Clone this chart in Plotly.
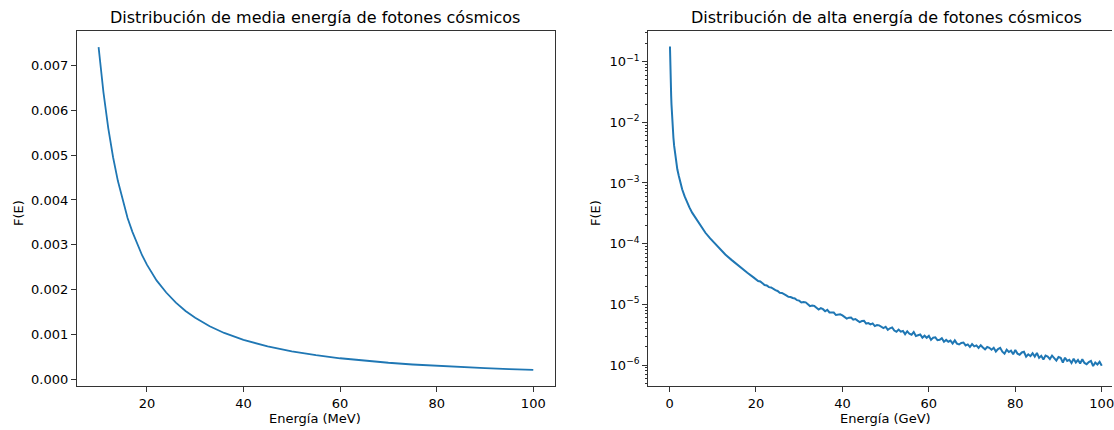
import plotly.graph_objects as go

# ---------------- data ----------------
# Left: medium energy (MeV)
e_mev = [10, 11, 12, 13, 14, 15, 16, 17, 18, 19, 20, 22, 24, 26, 28, 30, 33, 36, 40,
         45, 50, 55, 60, 65, 70, 75, 80, 85, 90, 95, 100]
f_mev = [7.40e-3, 6.40e-3, 5.60e-3, 4.95e-3, 4.42e-3, 3.98e-3, 3.60e-3, 3.29e-3, 3.01e-3,
         2.77e-3, 2.56e-3, 2.21e-3, 1.94e-3, 1.715e-3, 1.53e-3, 1.38e-3, 1.19e-3, 1.04e-3,
         0.887e-3, 0.741e-3, 0.631e-3, 0.545e-3, 0.477e-3, 0.422e-3, 0.377e-3, 0.339e-3,
         0.307e-3, 0.280e-3, 0.257e-3, 0.236e-3, 0.218e-3]

# Right: high energy (GeV)
e_gev_low = [0.1, 0.12, 0.15, 0.19, 0.23, 0.3, 0.38, 0.45, 0.53, 0.64, 0.76, 0.9, 1.07,
             1.3, 1.53, 1.8, 2.15, 2.5, 2.92, 3.5, 4.07, 4.6, 5.23, 6.0, 6.77, 7.5,
             8.3, 9.4, 10.6, 11.7, 12.9, 14.4, 16.0, 18.0, 19.5]
f_gev_low = [0.177, 0.135, 0.100, 0.070, 0.0513, 0.0365, 0.0271, 0.0198, 0.01445, 0.0104,
             0.00767, 0.00555, 0.00407, 0.00295, 0.00217, 0.00168, 0.00130, 0.00102,
             7.87e-4, 6.0e-4, 4.75e-4, 3.95e-4, 3.24e-4, 2.68e-4, 2.23e-4, 1.85e-4,
             1.51e-4, 1.22e-4, 9.77e-5, 8.05e-5, 6.61e-5, 5.35e-5, 4.27e-5,
             3.31e-5, 2.75e-5]

# E = 20 .. 100 GeV in 0.5 GeV steps, F in units of 1e-6
e_gev_high = [20 + 0.5 * i for i in range(161)]
f_gev_high_e6 = [
    25.9, 24.2, 23.8, 22.2, 20.8, 20.5, 19.2, 19.0, 17.7, 17.1,
    16.6, 15.5, 15.4, 14.9, 14.0, 13.3, 13.2, 12.7, 12.5, 11.7,
    11.5, 10.72, 10.91, 10.77, 9.84, 9.34, 9.53, 9.43, 8.80, 8.21,
    8.64, 8.32, 7.69, 8.11, 7.36, 7.31, 7.33, 6.66, 6.69, 6.85,
    6.56, 6.08, 5.81, 6.03, 6.06, 5.58, 5.73, 5.38, 5.10, 5.29,
    5.33, 4.82, 4.91, 4.66, 4.84, 4.38, 4.55, 4.50, 4.24, 4.07,
    4.27, 3.79, 4.03, 4.15, 3.69, 3.54, 3.84, 3.55, 3.64, 3.22,
    3.60, 3.27, 3.15, 3.48, 3.00, 3.14, 3.18, 2.82, 3.04, 2.81,
    3.03, 2.59, 2.82, 2.86, 2.56, 2.60, 2.77, 2.42, 2.59, 2.42,
    2.53, 2.26, 2.55, 2.25, 2.18, 2.31, 2.35, 2.10, 2.18, 1.98,
    2.21, 2.03, 2.10, 1.91, 2.12, 1.94, 1.81, 1.98, 1.92, 1.79,
    1.92, 1.67, 1.83, 1.92, 1.66, 1.54, 1.79, 1.64, 1.73, 1.50,
    1.77, 1.54, 1.48, 1.61, 1.65, 1.37, 1.50, 1.40, 1.56, 1.38,
    1.58, 1.31, 1.42, 1.23, 1.43, 1.38, 1.25, 1.43, 1.27, 1.18,
    1.35, 1.31, 1.10, 1.32, 1.17, 1.22, 1.08, 1.27, 1.10, 1.21,
    1.06, 1.24, 1.08, 1.03, 1.12, 1.17, 0.96, 1.10, 1.02, 1.13,
    0.97,
]

e_gev = e_gev_low + e_gev_high
f_gev = f_gev_low + [v * 1e-6 for v in f_gev_high_e6]

left_yticks = [0.000, 0.001, 0.002, 0.003, 0.004, 0.005, 0.006, 0.007]
left_xticks = [20, 40, 60, 80, 100]
right_xticks = [0, 20, 40, 60, 80, 100]
right_yticks = [1e-6, 1e-5, 1e-4, 1e-3, 1e-2, 1e-1]
right_yticktext = ["10<sup>−6</sup>", "10<sup>−5</sup>", "10<sup>−4</sup>",
                   "10<sup>−3</sup>", "10<sup>−2</sup>", "10<sup>−1</sup>"]

# ---------------- figure ----------------
W, H = 1114, 430
T, B = 31, 44
plot_h = H - T - B
FONT = "DejaVu Sans"
AX = "#333333"
BLUE = "#1f77b4"

fig = go.Figure()
fig.add_trace(go.Scatter(x=e_mev, y=f_mev, mode="lines", xaxis="x", yaxis="y",
                         line=dict(color=BLUE, width=1.8), showlegend=False))
fig.add_trace(go.Scatter(x=e_gev, y=f_gev, mode="lines", xaxis="x2", yaxis="y2",
                         line=dict(color=BLUE, width=2), showlegend=False))

common = dict(showline=True, linecolor=AX, linewidth=1, ticks="outside", ticklen=5,
              tickwidth=1, tickcolor=AX, showgrid=False, zeroline=False,
              ticklabeloverflow="allow",
              tickfont=dict(family=FONT, size=13, color="black"))

fig.update_layout(
    width=W, height=H,
    margin=dict(l=0, r=0, t=T, b=B),
    paper_bgcolor="white", plot_bgcolor="white",
    font=dict(family=FONT, size=13, color="black"),
    xaxis=dict(domain=[77 / W, 556 / W], range=[5.5, 104.5], tickvals=left_xticks,
               mirror=True, anchor="y", **common),
    yaxis=dict(domain=[0, 1], range=[-0.00014, 0.00776], tickvals=left_yticks,
               tickformat=".3f", mirror=True, anchor="x", **common),
    xaxis2=dict(domain=[649.3 / W, 1.0], range=[-4.95, 102.37], tickvals=right_xticks,
                mirror=True, anchor="y2", **common),
    yaxis2=dict(domain=[0, 1], type="log", range=[-6.346, -0.496],
                tickvals=right_yticks, ticktext=right_yticktext,
                mirror=False, anchor="x2",
                minor=dict(ticks="outside", ticklen=2.5, tickcolor=AX, dtick="D1",
                           showgrid=False),
                **common),
)


def py(px):
    return (H - B - px) / plot_h


annotations = [
    dict(text="Distribución de media energía de fotones cósmicos", x=316 / W, y=py(17),
         font=dict(size=16)),
    dict(text="Distribución de alta energía de fotones cósmicos", x=888 / W, y=py(17),
         font=dict(size=16)),
    dict(text="Energía (MeV)", x=316 / W, y=py(418), font=dict(size=13)),
    dict(text="Energía (GeV)", x=887 / W, y=py(418), font=dict(size=13)),
    dict(text="F(E)", x=18 / W, y=py(213), textangle=-90, font=dict(size=13)),
    dict(text="F(E)", x=596 / W, y=py(213), textangle=-90, font=dict(size=13)),
]
for a in annotations:
    a.update(xref="paper", yref="paper", showarrow=False, xanchor="center",
             yanchor="middle")
    a["font"] = dict(family=FONT, color="black", **a["font"])
fig.update_layout(annotations=annotations)

fig.write_html("out.html")
